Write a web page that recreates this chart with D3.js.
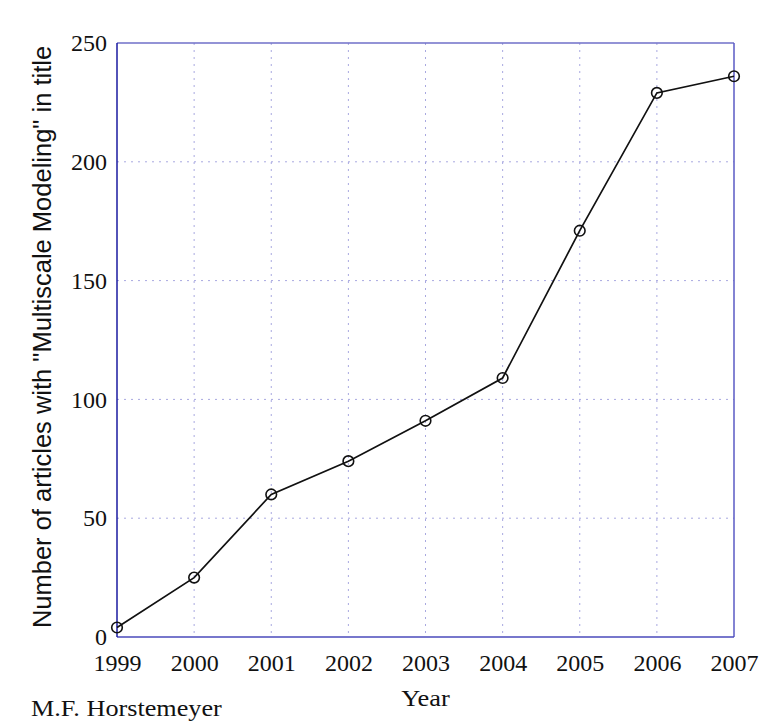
<!DOCTYPE html>
<html>
<head>
<meta charset="utf-8">
<script src="https://cdn.jsdelivr.net/npm/d3@7"></script>
<style>
  body { margin: 0; background: #fff; }
</style>
</head>
<body>
<div id="chart"></div>
<script>
const years = [1999, 2000, 2001, 2002, 2003, 2004, 2005, 2006, 2007];
const articles = [4, 25, 60, 74, 91, 109, 171, 229, 236];
const yTicks = [0, 50, 100, 150, 200, 250];

const chartWidth = 776;
const chartHeight = 728;
const margin = { top: 43, right: 42, bottom: 91, left: 117 };
const width = chartWidth - margin.left - margin.right;
const height = chartHeight - margin.top - margin.bottom;

const serif = "'Liberation Serif', 'Times New Roman', serif";

const svg = d3.select("#chart")
    .append("svg")
    .attr("width", chartWidth)
    .attr("height", chartHeight)
    .append("g")
    .attr("transform", `translate(${margin.left}, ${margin.top})`);

const xScale = d3.scaleLinear()
    .domain([1999, 2007])
    .range([0, width]);

const yScale = d3.scaleLinear()
    .domain([0, 250])
    .range([height, 0]);

// grid lines
svg.append("g")
    .selectAll("line")
    .data(years.slice(1, -1))
    .enter().append("line")
    .attr("x1", d => xScale(d))
    .attr("x2", d => xScale(d))
    .attr("y1", 0)
    .attr("y2", height)
    .attr("stroke", "#a8a8e0")
    .attr("stroke-width", 1)
    .attr("stroke-dasharray", "2,5");

svg.append("g")
    .selectAll("line")
    .data(yTicks.slice(1, -1))
    .enter().append("line")
    .attr("x1", 0)
    .attr("x2", width)
    .attr("y1", d => yScale(d))
    .attr("y2", d => yScale(d))
    .attr("stroke", "#a8a8e0")
    .attr("stroke-width", 1)
    .attr("stroke-dasharray", "2,5");

// axes
const xAxis = d3.axisBottom(xScale)
    .tickValues(years)
    .tickFormat(d3.format("d"))
    .tickSize(0)
    .tickPadding(17);

const yAxis = d3.axisLeft(yScale)
    .tickValues(yTicks)
    .tickSize(0)
    .tickPadding(10);

const gx = svg.append("g")
    .attr("transform", `translate(0, ${height})`)
    .call(xAxis);
gx.select(".domain").remove();
gx.selectAll("text")
    .style("font-family", serif)
    .style("font-size", "24px")
    .attr("fill", "#111");

const gy = svg.append("g")
    .call(yAxis);
gy.select(".domain").remove();
gy.selectAll("text")
    .style("font-family", serif)
    .style("font-size", "24px")
    .attr("fill", "#111");

// frame
svg.append("line")
    .attr("x1", 0).attr("x2", width)
    .attr("y1", 0).attr("y2", 0)
    .attr("stroke", "#6f6fc8").attr("stroke-width", 1.5);
svg.append("line")
    .attr("x1", width).attr("x2", width)
    .attr("y1", 0).attr("y2", height)
    .attr("stroke", "#5a5ac4").attr("stroke-width", 1.5);
svg.append("line")
    .attr("x1", 0).attr("x2", width)
    .attr("y1", height).attr("y2", height)
    .attr("stroke", "#4a4abb").attr("stroke-width", 1.5);
svg.append("line")
    .attr("x1", 0).attr("x2", 0)
    .attr("y1", 0).attr("y2", height)
    .attr("stroke", "#1a1aa0").attr("stroke-width", 1.5);

// data line
const line = d3.line()
    .x((d, i) => xScale(years[i]))
    .y(d => yScale(d));

svg.append("path")
    .datum(articles)
    .attr("d", line)
    .attr("fill", "none")
    .attr("stroke", "#111")
    .attr("stroke-width", 1.7);

svg.selectAll(".pt")
    .data(articles)
    .enter().append("circle")
    .attr("class", "pt")
    .attr("cx", (d, i) => xScale(years[i]))
    .attr("cy", d => yScale(d))
    .attr("r", 5.3)
    .attr("fill", "none")
    .attr("stroke", "#111")
    .attr("stroke-width", 1.6);

// labels
svg.append("text")
    .attr("transform", `translate(${width / 2}, ${height + 69}) scale(1.1, 1)`)
    .attr("text-anchor", "middle")
    .style("font-family", serif)
    .style("font-size", "24px")
    .attr("fill", "#111")
    .text("Year");

svg.append("text")
    .attr("transform", "rotate(-90)")
    .attr("x", -height / 2 + 3)
    .attr("y", -66)
    .attr("text-anchor", "middle")
    .style("font-family", "'Liberation Sans', Arial, sans-serif")
    .style("font-size", "25.5px")
    .attr("fill", "#111")
    .text("Number of articles with \"Multiscale Modeling\" in title");

d3.select("svg").append("text")
    .attr("transform", "translate(31, 716) scale(1.14, 1)")
    .style("font-family", serif)
    .style("font-size", "23px")
    .attr("fill", "#111")
    .text("M.F. Horstemeyer");
</script>
</body>
</html>
